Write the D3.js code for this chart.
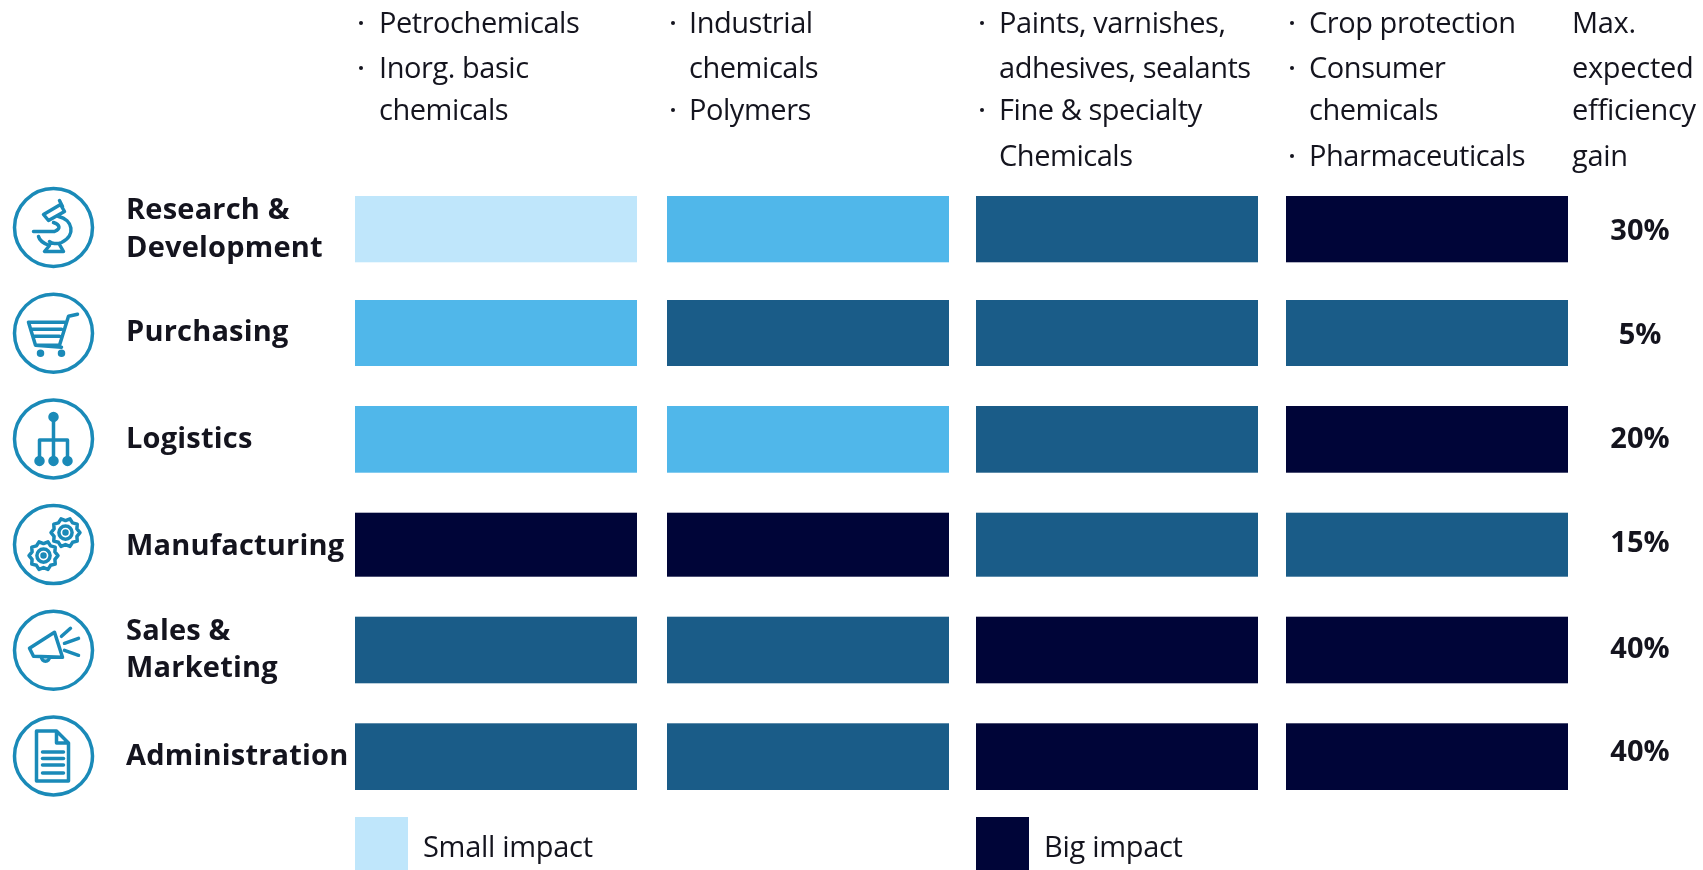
<!DOCTYPE html>
<html><head><meta charset="utf-8">
<script src="https://cdn.jsdelivr.net/npm/d3@7/dist/d3.min.js"></script>
<style>html,body{margin:0;padding:0;background:#fff}svg{display:block;filter:blur(0.55px)}text{font-family:"Open Sans",sans-serif;fill:#14141e}</style>
</head><body><svg id="c" width="1703" height="870"></svg>
<script>
const processes = ["Research & Development","Purchasing","Logistics","Manufacturing","Sales & Marketing","Administration"];
const processLines = [["Research &","Development"],["Purchasing"],["Logistics"],["Manufacturing"],["Sales &","Marketing"],["Administration"]];
const segments = ["Basic","Intermediate","Specialty","Consumer"];
const impact = [
  [1,2,3,4],
  [2,3,3,3],
  [2,2,3,4],
  [4,4,3,3],
  [3,3,4,4],
  [3,3,4,4]
];
const gains = ["30%","5%","20%","15%","40%","40%"];
const headers = [
  [["Petrochemicals",true],["Inorg. basic",true],["chemicals",false]],
  [["Industrial",true],["chemicals",false],["Polymers",true]],
  [["Paints, varnishes,",true],["adhesives, sealants",false],["Fine & specialty",true],["Chemicals",false]],
  [["Crop protection",true],["Consumer",true],["chemicals",false],["Pharmaceuticals",true]]
];
const gainHeader = ["Max.","expected","efficiency","gain"];
const legendItems = [["Small impact",1,0],["Big impact",4,2]];
const impactColors = ["#bfe6fb","#50b7ea","#1a5c88","#000538"];

const svg = d3.select("#c");
const barW = 282;
const colX = d3.scaleLinear().domain([0,1,2,3]).range([355,667,976,1286]);
const headX = d3.scaleLinear().domain([0,1,2,3]).range([379,689,999,1309]);
const rowTop = d3.scaleLinear().domain([0,1,2,3,4,5]).range([196,300,406,512.7,616.7,723.3]);
const rowBottom = d3.scaleLinear().domain([0,1,2,3,4,5]).range([262.3,366,472.7,576.7,683.3,790]);
const color = d3.scaleOrdinal().domain([1,2,3,4]).range(impactColors);
const headY = [33,78,120,166];
const FS = 29, ICON = "#1a8ab8";

// bars
const rows = svg.selectAll("g.row").data(impact).join("g").attr("class","row")
  .attr("transform",(d,i)=>`translate(0,${rowTop(i)})`);
rows.each(function(vals,r){
  d3.select(this).selectAll("rect").data(vals).join("rect")
    .attr("x",(d,i)=>colX(i)).attr("y",0).attr("width",barW).attr("height",rowBottom(r)-rowTop(r))
    .attr("fill",d=>color(d));
});

// column headers
headers.forEach((lines,c)=>{
  const g = svg.append("g");
  lines.forEach((l,i)=>{
    g.append("text").attr("x",headX(c)).attr("y",headY[i]).attr("font-size",FS).attr("font-weight",400)
      .attr("letter-spacing",-0.45).text(l[0]);
    if(l[1]) g.append("circle").attr("cx",colX(c)+6).attr("cy",headY[i]-10).attr("r",2).attr("fill","#14141e");
  });
});
gainHeader.forEach((t,i)=>svg.append("text").attr("x",1572).attr("y",headY[i]).attr("font-size",FS).attr("font-weight",400).attr("letter-spacing",-0.3).text(t));

// row labels
const labelBase = [[219,257],[341],[448],[555],[640,677],[765]];
processLines.forEach((ls,r)=>ls.forEach((t,i)=>{
  svg.append("text").attr("x",126).attr("y",labelBase[r][i]).attr("font-size",FS).attr("font-weight",700).attr("letter-spacing",0.2).text(t);
}));

// gains
const gainBase = [240,344,448,552,658,761];
gains.forEach((t,i)=>svg.append("text").attr("x",1640).attr("y",gainBase[i]).attr("text-anchor","middle")
  .attr("font-size",FS).attr("font-weight",700).text(t));

// legend
legendItems.forEach(([t,v,c])=>{
  svg.append("rect").attr("x",colX(c)).attr("y",817).attr("width",53).attr("height",53).attr("fill",color(v));
  svg.append("text").attr("x",colX(c)+68).attr("y",857).attr("font-size",FS).attr("font-weight",400).attr("letter-spacing",-0.3).text(t);
});

// icons
const iconY = d3.scaleLinear().domain([0,5]).range([227.5,756]);
const icon = svg.selectAll("g.icon").data(processes).join("g").attr("class","icon")
  .attr("transform",(d,i)=>`translate(53.5,${iconY(i)})`)
  .attr("fill","none").attr("stroke",ICON).attr("stroke-width",3.5).attr("stroke-linecap","round").attr("stroke-linejoin","round");
icon.append("circle").attr("r",39);
const I = i=>icon.filter((d,k)=>k===i);
function gear(g,cx,cy,r){
  const n=10, pts=[];
  for(let k=0;k<n*2;k++){const a=k*Math.PI/n, R=k%2?r:r+2.5; pts.push([cx+R*Math.cos(a),cy+R*Math.sin(a)]);}
  g.append("path").attr("d",d3.line().curve(d3.curveLinearClosed)(pts));
  g.append("circle").attr("cx",cx).attr("cy",cy).attr("r",r*0.55);
  g.append("circle").attr("cx",cx).attr("cy",cy).attr("r",1.5).attr("fill",ICON);
}
// microscope
I(0).append("path").attr("d","M-10 -13 L7 -23 L11 -16 L-5 -7 Z M6 -27 L9 -21 M5 -11 C19 -8 23 8 8 15 C3 17 -2 16 -4 14 M-20 4 L1 4 M0 -5 C6 -3 8 1 1 4 M-15 9 C-14 13 -10 16 -4 18 L-9 24 L10 24 L6 17");
// cart
I(1).append("path").attr("d","M-25 -11 L11 -11 M-25 -11 L-18 12 L6 12 L15 -17 L24 -19 M-22 -4 L8 -4 M-20 3 L6 3 M-18 12 L8 14");
I(1).append("circle").attr("cx",-13).attr("cy",20).attr("r",2).attr("fill",ICON);
I(1).append("circle").attr("cx",8).attr("cy",20).attr("r",2).attr("fill",ICON);
// logistics
I(2).append("path").attr("d","M0 -21 L0 22 M-14 22 L-14 1 L14 1 L14 22");
[[0,-22],[-14,22],[0,22],[14,22]].forEach(p=>I(2).append("circle").attr("cx",p[0]).attr("cy",p[1]).attr("r",3.5).attr("fill",ICON));
// gears
gear(I(3),12,-12,12); gear(I(3),-10,11,12);
// megaphone
I(4).append("path").attr("d","M-24 -2 L1 -18 L9 7 L-20 6 Z M-12 7 A4 4 0 0 0 -4 7 M8 -14 L17 -22 M11 -7 L25 -12 M11 0 L25 5");
// document
I(5).append("path").attr("d","M-17 -25 L3 -25 L15 -13 L15 25 L-17 25 Z M3 -25 L3 -13 L15 -13");
[-4,2.5,9,17].forEach(v=>I(5).append("line").attr("x1",-11).attr("x2",10).attr("y1",v).attr("y2",v).attr("stroke-width",3.5));
</script></body></html>
